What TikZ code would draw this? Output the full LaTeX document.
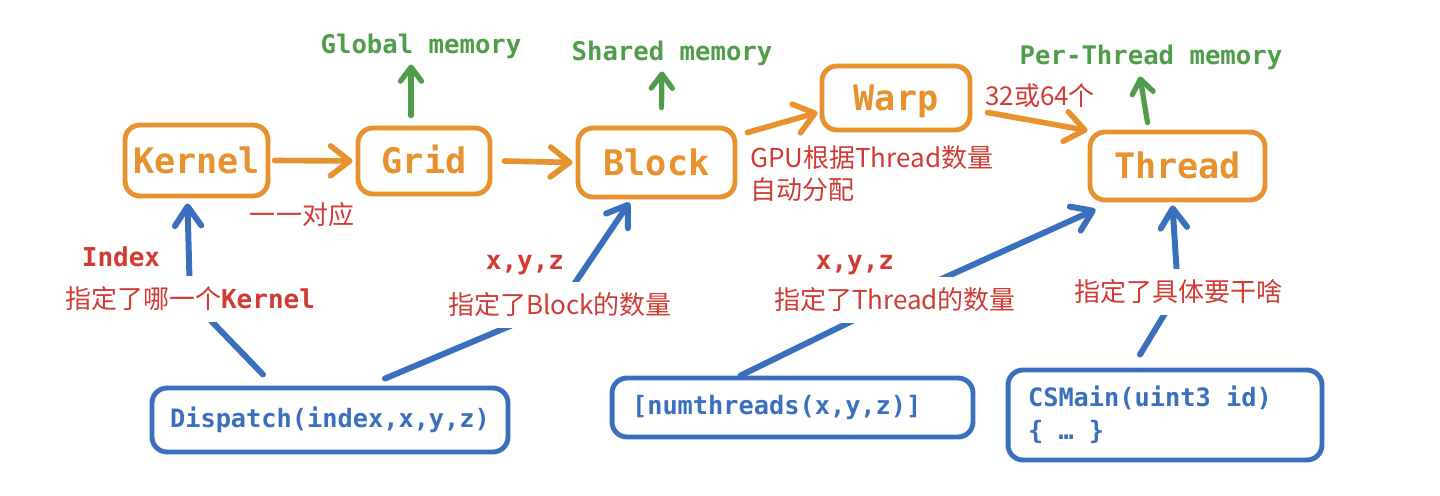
\documentclass[tikz,border=0pt]{standalone}
\usepackage{fontspec}
\setmonofont{DejaVu Sans Mono}
\newfontfamily\cjk{Noto Sans CJK SC}
\usetikzlibrary{arrows.meta,calc}
\definecolor{cOr}{HTML}{E8922F}
\definecolor{cGr}{HTML}{4F9D4A}
\definecolor{cRd}{HTML}{D13B34}
\definecolor{cBl}{HTML}{3A6FBE}
\newcommand{\mspc}{\hspace*{0.602em}}
\begin{document}
\begin{tikzpicture}[x=0.02cm,y=-0.02cm,
  obox/.style={draw=cOr,line width=2.8pt,rounded corners=0.3cm,text=cOr,
    font=\ttfamily\bfseries\fontsize{20}{24}\selectfont,inner sep=0pt,text height=14.6pt,text depth=0pt},
  bbox/.style={draw=cBl,line width=2.8pt,rounded corners=0.3cm,text=cBl,
    font=\ttfamily\bfseries\fontsize{14.4}{18.8}\selectfont},
  glab/.style={text=cGr,font=\ttfamily\bfseries\fontsize{14.6}{17}\selectfont,inner sep=1pt},
  rlab/.style={text=cRd,font=\cjk\fontsize{14.8}{18.2}\selectfont,inner sep=1pt},
  cover/.style={fill=white,inner xsep=3pt,inner ysep=6pt},
  oarr/.style={draw=cOr,line width=3.2pt,line cap=round,line join=round,
    -{Straight Barb[length=11pt,width=17pt,round]}},
  garr/.style={draw=cGr,line width=3pt,line cap=round,line join=round,
    -{Straight Barb[length=8pt,width=12pt,round]}},
  barr/.style={draw=cBl,line width=3.4pt,line cap=round,line join=round,
    -{Straight Barb[length=11pt,width=15pt,round]}},
]
\useasboundingbox (0,0) rectangle (1440,496);

% main chain
\node[obox,minimum width=2.86cm,minimum height=1.42cm] (kernel) at (196.5,160.5) {Kernel};
\node[obox,minimum width=2.64cm,minimum height=1.32cm] (grid) at (424,161) {Grid};
\node[obox,minimum width=3.14cm,minimum height=1.38cm] (block) at (656.5,162.5) {Block};
\node[obox,minimum width=2.96cm,minimum height=1.28cm] (warp) at (896,98) {Warp};
\node[obox,minimum width=3.5cm,minimum height=1.36cm] (thread) at (1177.5,166) {Thread};

% blue boxes
\node[bbox,minimum width=7.12cm,minimum height=1.28cm] (disp) at (330,420) {Dispatch(index,x,y,z)};
\node[bbox,text width=6.42cm,align=left,inner xsep=0.4cm,minimum height=1.18cm] (numt) at (792.5,407.5) {[numthreads(x,y,z)]};
\node[bbox,text width=5.48cm,align=left,inner xsep=0.4cm,minimum height=1.8cm] (csm) at (1165,415) {CSMain(uint3\mspc id)\\\{\mspc …\mspc\}};

% memory labels
\node[glab] (gm) at (421,46) {Global\mspc memory};
\node[glab] (sm) at (672,53) {Shared\mspc memory};
\node[glab] (pt) at (1151,57) {Per-Thread\mspc memory};

\draw[garr] ($(grid.north)+(-13,-10)$) -- ($(gm.south)+(-10,4)$);
\draw[garr] ($(block.north)+(5,-18)$) -- ($(sm.south)+(-10,4)$);
\draw[garr] ($(thread.north)+(-30,-7)$) -- ($(pt.south)+(-11,5)$);

% orange arrows
\draw[oarr] ($(kernel.east)+(4,0)$) -- ($(grid.west)+(-3,0)$);
\draw[oarr] ($(grid.east)+(12,0)$) -- ($(block.west)+(-3,0)$);
\draw[oarr] ($(block.north east)+(10,7)$) -- ($(warp.south west)+(-2,-20)$);
\draw[oarr] ($(warp.south east)+(15,-20)$) -- ($(thread.north west)+(0,1)$);

% blue arrows (label positions as bend points)
\coordinate (c5) at (190,299);
\coordinate (c7) at (560,305);
\coordinate (c9) at (895,300);
\coordinate (c10) at (1178,292);
\draw[barr] ($(disp.north)+(-67,-11)$) -- (c5) -- ($(kernel.south)+(-9,5)$);
\draw[barr] ($(disp.north)+(55,-7)$) -- (c7) -- ($(block.south)+(-27,3)$);
\draw[barr] ($(numt.north)+(-52,0)$) -- (c9) -- ($(thread.south west)+(8,7)$);
\draw[barr] ($(csm.north)+(-25,-13)$) -- (c10) -- ($(thread.south)+(-5,3)$);

% red labels
\node[rlab] (l1) at (302,215) {一一对应};
\node[rlab,align=left,anchor=west] (l2) at (748,174) {GPU根据Thread数量\\自动分配};
\node[rlab] (l3) at (1040,96) {32或64个};
\node[rlab] (l4) at (121,257) {\ttfamily\bfseries Index};
\node[rlab,cover] (l5) at (c5) {指定了哪一个{\ttfamily\bfseries Kernel}};
\node[rlab] (l6) at (525,265) {\ttfamily\bfseries x,y,z};
\node[rlab,cover] (l7) at (c7) {指定了Block的数量};
\node[rlab] (l8) at (855,265) {\ttfamily\bfseries x,y,z};
\node[rlab,cover] (l9) at (c9) {指定了Thread的数量};
\node[rlab,cover] (l10) at (c10) {指定了具体要干啥};
\end{tikzpicture}
\end{document}
